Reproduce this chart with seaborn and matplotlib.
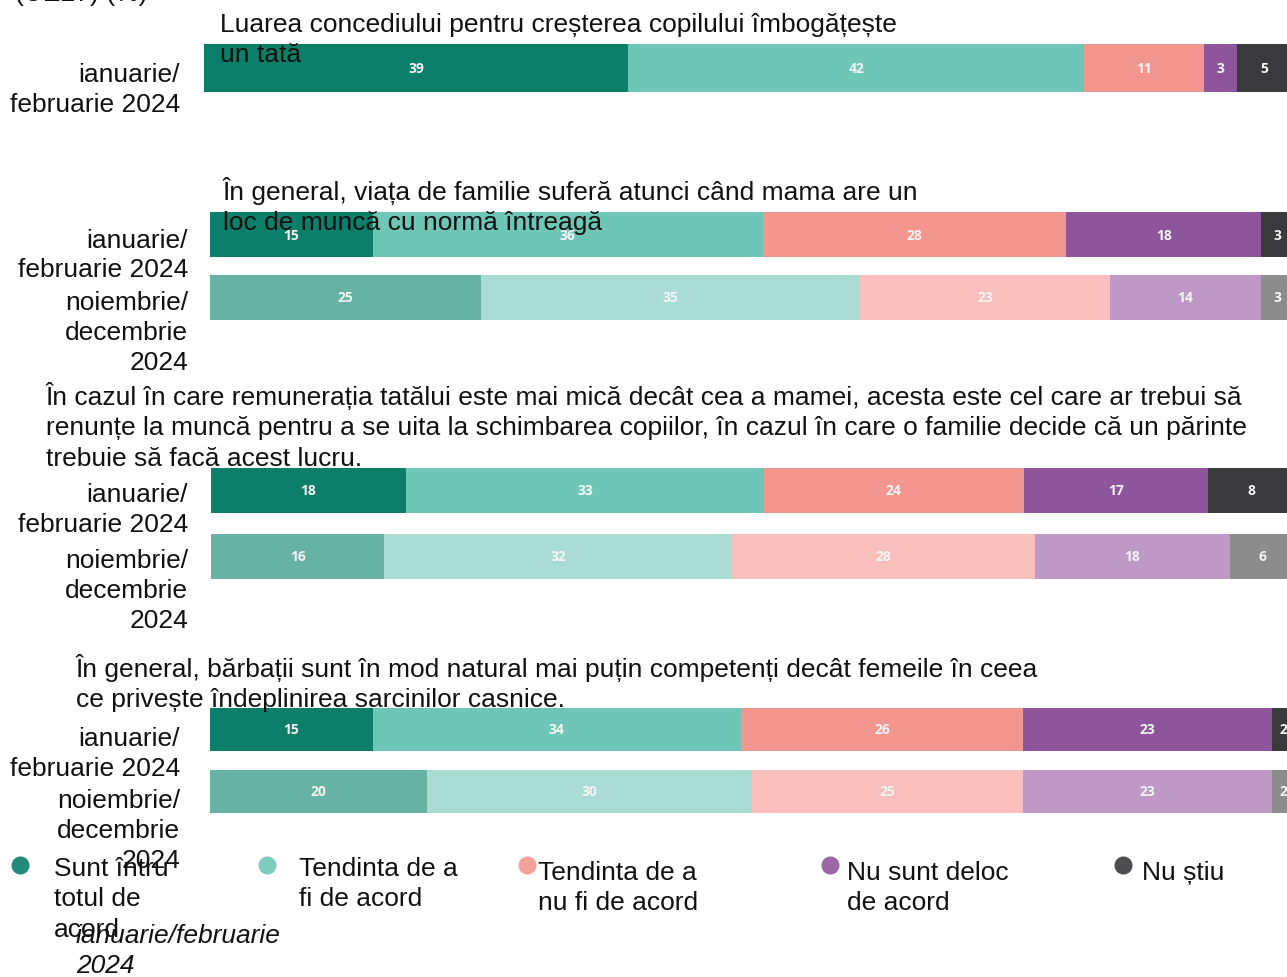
import matplotlib
matplotlib.use("Agg")
import matplotlib.pyplot as plt
from matplotlib.transforms import ScaledTranslation
from matplotlib.lines import Line2D
import numpy as np
import pandas as pd
import seaborn as sns

# ---------------- data ----------------
categories = ["Sunt întru\ntotul de\nacord", "Tendinta de a\nfi de acord",
              "Tendinta de a\nnu fi de acord", "Nu sunt deloc\nde acord", "Nu știu"]
period_1 = "ianuarie/\nfebruarie 2024"
period_2 = "noiembrie/\ndecembrie\n2024"

titles = [
    "Luarea concediului pentru creșterea copilului îmbogățește\nun tată",
    "În general, viața de familie suferă atunci când mama are un\nloc de muncă cu normă întreagă",
    "În cazul în care remunerația tatălui este mai mică decât cea a mamei, acesta este cel care ar trebui să\n"
    "renunțe la muncă pentru a se uita la schimbarea copiilor, în cazul în care o familie decide că un părinte\n"
    "trebuie să facă acest lucru.",
    "În general, bărbații sunt în mod natural mai puțin competenți decât femeile în ceea\n"
    "ce privește îndeplinirea sarcinilor casnice.",
]

q1_jan = [39, 42, 11, 3, 5]
q2_jan = [15, 36, 28, 18, 3]
q2_nov = [25, 35, 23, 14, 3]
q3_jan = [18, 33, 24, 17, 8]
q3_nov = [16, 32, 28, 18, 6]
q4_jan = [15, 34, 26, 23, 2]
q4_nov = [20, 30, 25, 23, 2]

panels = [
    {period_1: q1_jan},
    {period_1: q2_jan, period_2: q2_nov},
    {period_1: q3_jan, period_2: q3_nov},
    {period_1: q4_jan, period_2: q4_nov},
]

colors_full = ["#0b7f6a", "#6ec6b6", "#f49690", "#8e559c", "#3a3a3c"]
colors_faded = ["#66b2a5", "#a9ddd4", "#f8bfbc", "#be99c6", "#8c8c8c"]

# ---------------- layout ----------------
W, H = 1287, 978
sns.set_style("white")
plt.rcParams["font.family"] = ["Liberation Sans", "DejaVu Sans"]
FS = 19
LS = 1.33
TXT = "#111111"

fig = plt.figure(figsize=(W / 100, H / 100), dpi=100)

def rect(left, top, width, height):
    return [left / W, 1 - (top + height) / H, width / W, height / H]

# (left px, row0 centre px, row spacing px, bar thickness px, axis width px, label pad px, label shift)
layout = [
    (204, 69, 63, 48, 1087, 24, 0.06),
    (210, 235.5, 63, 45, 1084, 22, 0.07),
    (211, 491.5, 66, 45, 1084, 23, 0.08),
    (210, 730.5, 62, 43, 1084, 30, 0.03),
]
title_pos = [(220, 24), (223, 188), (46, 393), (76, 665)]

for panel, (left, c0, sp, thick, wpx, pad, shift) in zip(panels, layout):
    periods = list(panel.keys())
    n = len(periods)
    ax = fig.add_axes(rect(left, c0 - sp / 2, wpx, n * sp))
    vals = np.array([panel[p] for p in periods], dtype=float)
    cum = vals.cumsum(axis=1)
    for k in range(len(categories) - 1, -1, -1):
        df = pd.DataFrame({"period": periods, "value": cum[:, k]})
        pal = {p: (colors_full[k] if i == 0 else colors_faded[k]) for i, p in enumerate(periods)}
        sns.barplot(data=df, x="value", y="period", hue="period", palette=pal,
                    dodge=False, legend=False, width=thick / sp, saturation=1,
                    orient="h", linewidth=0, ax=ax)
    for i in range(n):
        for k in range(len(categories)):
            ax.text(cum[i, k] - vals[i, k] / 2, i, f"{int(vals[i, k])}",
                    ha="center", va="center", color="#f4f4f4", fontsize=10,
                    fontweight="bold", family=["Open Sans", "DejaVu Sans"])
    ax.set_xlim(0, 100)
    ax.set_ylim(n - 0.5, -0.5)
    ax.set_xlabel("")
    ax.set_ylabel("")
    ax.set_xticks([])
    ax.set_yticks(range(n))
    ax.set_yticklabels(periods, fontsize=FS, linespacing=1.3, color=TXT)
    ax.tick_params(axis="y", length=0, pad=pad * 0.72)
    for lab in ax.get_yticklabels():
        lab.set_va("top")
        lab.set_transform(lab.get_transform() + ScaledTranslation(0, shift, fig.dpi_scale_trans))
    for s in ax.spines.values():
        s.set_visible(False)
    ax.patch.set_alpha(0)

for (x, y), t in zip(title_pos, titles):
    fig.text(x / W, 1 - (y - 11) / H, t, ha="left", va="top", fontsize=FS,
             linespacing=LS, color=TXT, zorder=10)

# cut-off header at the very top
fig.text(15 / W, 1 - 1 / H, "(UE27) (%)", ha="left", va="baseline", fontsize=FS, color=TXT)

# ---------------- legend ----------------
marker_x = [20, 267, 527, 830, 1123]
text_x = [54, 299, 538, 847, 1142]
text_y = [868, 868, 872, 872, 872]
for mx, tx, ty, col, lab in zip(marker_x, text_x, text_y, colors_full, categories):
    fig.add_artist(Line2D([mx / W], [1 - 866 / H], marker="o", markersize=13,
                          color=col, markeredgewidth=0, alpha=0.9, linestyle="none"))
    fig.text(tx / W, 1 - (ty - 11) / H, lab, ha="left", va="top", fontsize=FS,
             linespacing=LS, color=TXT, zorder=10)

fig.text(76 / W, 1 - (935 - 11) / H, "ianuarie/februarie\n2024", ha="left", va="top",
         fontsize=FS, style="italic", linespacing=1.3, color=TXT, zorder=10)

fig.savefig("out.png", dpi=100)
